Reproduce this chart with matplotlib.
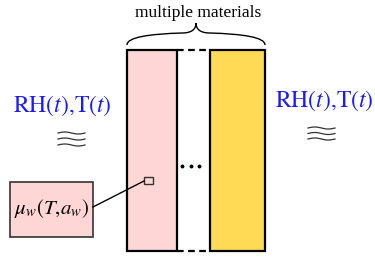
import numpy as np
import matplotlib.pyplot as plt
from matplotlib.patches import Rectangle, PathPatch
from matplotlib.path import Path

plt.rcParams['mathtext.fontset'] = 'stix'
plt.rcParams['font.family'] = ['Liberation Serif', 'DejaVu Serif']

# layers of the wall: (name, left, right, fill colour)
layer_names = ['material 1', 'material n']
layer_left = [127, 210]
layer_right = [177, 265]
layer_colors = ['#ffd6d6', '#ffda55']
boundary_label = r'$\mathrm{RH}(t){,}\mathrm{T}(t)$'
property_label = r'$\mu_w(T{,}a_w)$'
top_label = 'multiple materials'

fig = plt.figure(figsize=(3.75, 2.59), dpi=100)
ax = fig.add_axes([0, 0, 1, 1])
ax.set_xlim(0, 375)
ax.set_ylim(259, 0)
ax.axis('off')

top, bottom = 50, 251
for left, right, col in zip(layer_left, layer_right, layer_colors):
    ax.add_patch(Rectangle((left, top), right - left, bottom - top,
                           facecolor=col, edgecolor='black', lw=1.6))

# dashed lines for the skipped layers
for y in (top, bottom):
    ax.plot([layer_right[0], layer_left[1]], [y, y], color='black', lw=1.6,
            ls=(0, (3, 2)))
ax.plot([182, 190.5, 199], [166, 166, 166], 'o', color='black', ms=1.8)

# curly brace
verts = [(127, 45), (127, 37), (150, 34), (182, 33),
         (192, 33), (196, 29), (196, 23),
         (196, 29), (200, 33), (210, 33),
         (242, 34), (265, 37), (265, 45)]
codes = [Path.MOVETO] + [Path.CURVE4] * 12
ax.add_patch(PathPatch(Path(verts, codes), facecolor='none', edgecolor='black', lw=1.0))
ax.text(198, 13, top_label, ha='center', va='center', fontsize=12.5)

# boundary conditions
ax.text(62, 106, boundary_label, ha='center', va='center', fontsize=17, color='#1a1aff')
ax.text(324, 101, boundary_label, ha='center', va='center', fontsize=17, color='#1a1aff')


def waves(x0, x1, ys):
    xs = np.linspace(x0, x1, 40)
    for y in ys:
        ax.plot(xs, y - 1.0 * np.sin((xs - x0) / (x1 - x0) * 2 * np.pi), color='#333333', lw=0.9)


waves(58, 85, [133, 139, 145])
waves(308, 335, [128, 133.5, 139])

# property box
ax.add_patch(Rectangle((10, 182), 83, 55, facecolor='#ffd6d6', edgecolor='#333333', lw=1.2))
ax.text(51.5, 209, property_label, ha='center', va='center', fontsize=15)
ax.add_patch(Rectangle((144, 177), 9, 7, facecolor='#ffd6d6', edgecolor='#333333', lw=1.0))
ax.plot([93, 144], [207, 181], color='black', lw=1.0)

fig.savefig('out.png', dpi=100)
